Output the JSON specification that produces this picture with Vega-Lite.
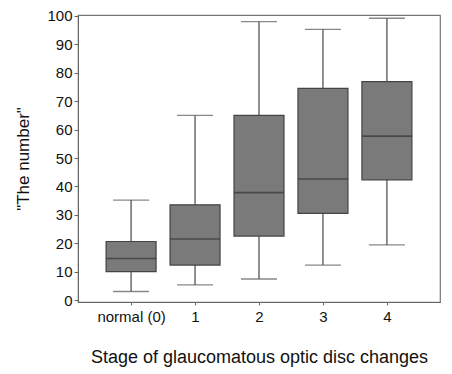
{
  "$schema": "https://vega.github.io/schema/vega-lite/v6.json",
  "width": 362,
  "height": 287,
  "autosize": {"type": "none"},
  "padding": {"left": 78, "top": 15, "right": 12, "bottom": 72},
  "background": "white",
  "config": {
    "font": "Liberation Sans",
    "view": {"stroke": "#777777", "strokeWidth": 1.2},
    "axis": {"grid": false, "domainColor": "#666666", "tickColor": "#666666", "labelColor": "#111111", "titleColor": "#111111", "titleFontWeight": "normal"},
    "axisY": {"labelOverlap": false, "labelFontSize": 15, "titleFontSize": 17, "tickSize": 4, "labelPadding": 2, "titlePadding": 14, "tickCount": 11}
  },
  "data": {
    "values": [
      {"stage": "normal (0)", "lower": 3, "q1": 10, "median": 14.6, "q3": 20.6, "upper": 35.2},
      {"stage": "1", "lower": 5.3, "q1": 12.3, "median": 21.5, "q3": 33.5, "upper": 65},
      {"stage": "2", "lower": 7.4, "q1": 22.5, "median": 37.8, "q3": 65, "upper": 98},
      {"stage": "3", "lower": 12.3, "q1": 30.5, "median": 42.6, "q3": 74.5, "upper": 95.3},
      {"stage": "4", "lower": 19.4, "q1": 42.3, "median": 57.7, "q3": 76.9, "upper": 99.2}
    ]
  },
  "encoding": {
    "x": {
      "field": "stage", "type": "nominal", "sort": null,
      "scale": {"type": "point", "padding": 0.83},
      "axis": {"title": "Stage of glaucomatous optic disc changes", "labelAngle": 0, "labelFontSize": 15, "titleFontSize": 18, "tickSize": 3, "labelPadding": 4, "titlePadding": 24}
    }
  },
  "layer": [
    {
      "mark": {"type": "rule", "color": "#555555", "strokeWidth": 1.3},
      "encoding": {
        "y": {"field": "lower", "type": "quantitative",
          "scale": {"domain": [-0.7, 100.35], "nice": false, "zero": false},
          "axis": {"title": "\"The number\"", "values": [0,10,20,30,40,50,60,70,80,90,100]}},
        "y2": {"field": "upper"}
      }
    },
    {
      "mark": {"type": "bar", "size": 50, "fill": "#7a7a7a", "stroke": "#444444", "strokeWidth": 1.2},
      "encoding": {
        "y": {"field": "q1", "type": "quantitative", "axis": {"title": "\"The number\"", "values": [0,10,20,30,40,50,60,70,80,90,100]}},
        "y2": {"field": "q3"}
      }
    },
    {
      "mark": {"type": "tick", "size": 50, "thickness": 1.6, "color": "#333333"},
      "encoding": {"y": {"field": "median", "type": "quantitative", "axis": {"title": "\"The number\"", "values": [0,10,20,30,40,50,60,70,80,90,100]}}}
    },
    {
      "mark": {"type": "tick", "size": 36, "thickness": 1.3, "color": "#555555"},
      "encoding": {"y": {"field": "lower", "type": "quantitative", "axis": {"title": "\"The number\"", "values": [0,10,20,30,40,50,60,70,80,90,100]}}}
    },
    {
      "mark": {"type": "tick", "size": 36, "thickness": 1.3, "color": "#555555"},
      "encoding": {"y": {"field": "upper", "type": "quantitative", "axis": {"title": "\"The number\"", "values": [0,10,20,30,40,50,60,70,80,90,100]}}}
    }
  ]
}
